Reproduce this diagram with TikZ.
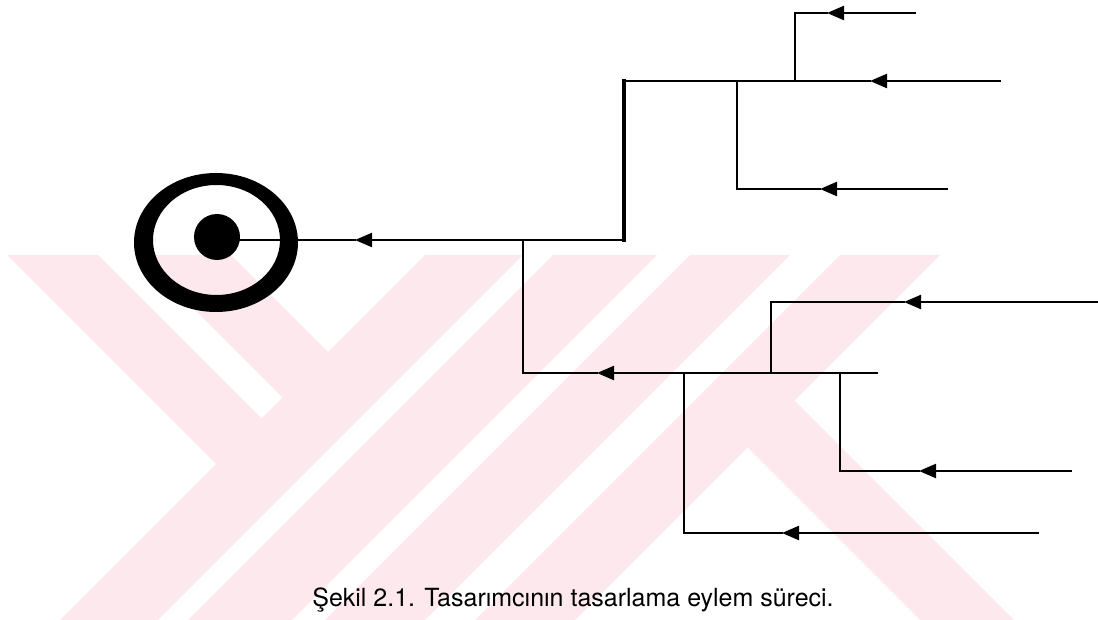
\documentclass[tikz,border=0pt]{standalone}
\usepackage{fontspec}
\setmainfont{TeX Gyre Heros}
\usetikzlibrary{arrows.meta}
\definecolor{wm}{RGB}{253,233,237}
\begin{document}
\begin{tikzpicture}[x=1pt,y=-1pt,
  ln/.style={line width=2.3pt, line join=miter, line cap=rect},
  thickln/.style={line width=3.4pt, line join=miter, line cap=rect},
  arr/.style={-{Triangle[length=17pt,width=14pt]}},
  wmark/.style={fill=wm, draw=none}]
\useasboundingbox (0,0) rectangle (1098,620);
% watermark
\fill[wmark] (7,255) -- (98,255) -- (261.5,418.5) -- (216,464) -- cycle;
\fill[wmark] (140,255) -- (231,255) -- (328,352) -- (282.5,397.5) -- cycle;
\fill[wmark] (425,255) -- (523,255) -- (158,620) -- (60,620) -- cycle;
\fill[wmark] (553,255) -- (657,255) -- (292,620) -- (188,620) -- cycle;
\fill[wmark] (690,255) -- (790,255) -- (425,620) -- (325,620) -- cycle;
\fill[wmark] (840,255) -- (940,255) -- (575,620) -- (475,620) -- cycle;
\fill[wmark] (794.5,400.5) -- (1014,620) -- (920,620) -- (747.5,447.5) -- cycle;
% goal symbol
\fill[even odd rule] (216,242.5) ellipse [x radius=82, y radius=69.5]
                     (216.5,240) ellipse [x radius=63.5, y radius=55];
\node[circle, fill=black, minimum size=46pt, inner sep=0pt] (goal) at (217,237) {};
% coordinates
\coordinate (c0) at (523,240);
\coordinate (c1) at (624,240);
\coordinate (c2) at (624,81);
\coordinate (t1e) at (1000,81);
\coordinate (c3) at (795,81);
\coordinate (c4) at (795,13);
\coordinate (t2e) at (915,13);
\coordinate (c5) at (737,81);
\coordinate (c6) at (737,189);
\coordinate (t3e) at (947,189);
\coordinate (c7) at (523,373);
\coordinate (b1e) at (877,373);
\coordinate (c8) at (771,373);
\coordinate (c9) at (771,302);
\coordinate (b2e) at (1098,302);
\coordinate (c10) at (840,373);
\coordinate (c11) at (840,471);
\coordinate (b3e) at (1071,471);
\coordinate (c12) at (684,373);
\coordinate (c13) at (684,533);
\coordinate (b4e) at (1038,533);
\coordinate (tip0) at (355,240);
\coordinate (tip1) at (870,81);
\coordinate (tip2) at (827,13);
\coordinate (tip3) at (820,189);
\coordinate (tip4) at (597,373);
\coordinate (tip5) at (904,302);
\coordinate (tip6) at (919,471);
\coordinate (tip7) at (782,533);
% main line
\draw[ln, arr] (c1) -- (tip0);
\draw[ln] (tip0) -- (tip0 -| goal.east);
\draw[thickln] (c1) -- (c2);
% upper branch
\draw[ln, arr] (t1e) -- (tip1);
\draw[ln] (tip1) -- (c2);
\draw[ln, arr] (t2e) -- (tip2);
\draw[ln] (tip2) -- (c4);
\draw[line width=2.9pt] (c4) -- (c3);
\draw[ln, arr] (t3e) -- (tip3);
\draw[ln] (tip3) -- (c6) -- (c5);
% lower branch
\draw[ln] (c0) -- (c7);
\draw[ln, arr] (b1e) -- (tip4);
\draw[ln] (tip4) -- (c7);
\draw[ln, arr] (b2e) -- (tip5);
\draw[ln] (tip5) -- (c9) -- (c8);
\draw[ln, arr] (b3e) -- (tip6);
\draw[ln] (tip6) -- (c11) -- (c10);
\draw[ln, arr] (b4e) -- (tip7);
\draw[ln] (tip7) -- (c13) -- (c12);
% caption
\node[font=\fontsize{25}{30}\selectfont, anchor=base, inner sep=0pt] (cap) at (573,606)
  {Şekil 2.1. Tasarımcının tasarlama eylem süreci.};
\end{tikzpicture}
\end{document}
